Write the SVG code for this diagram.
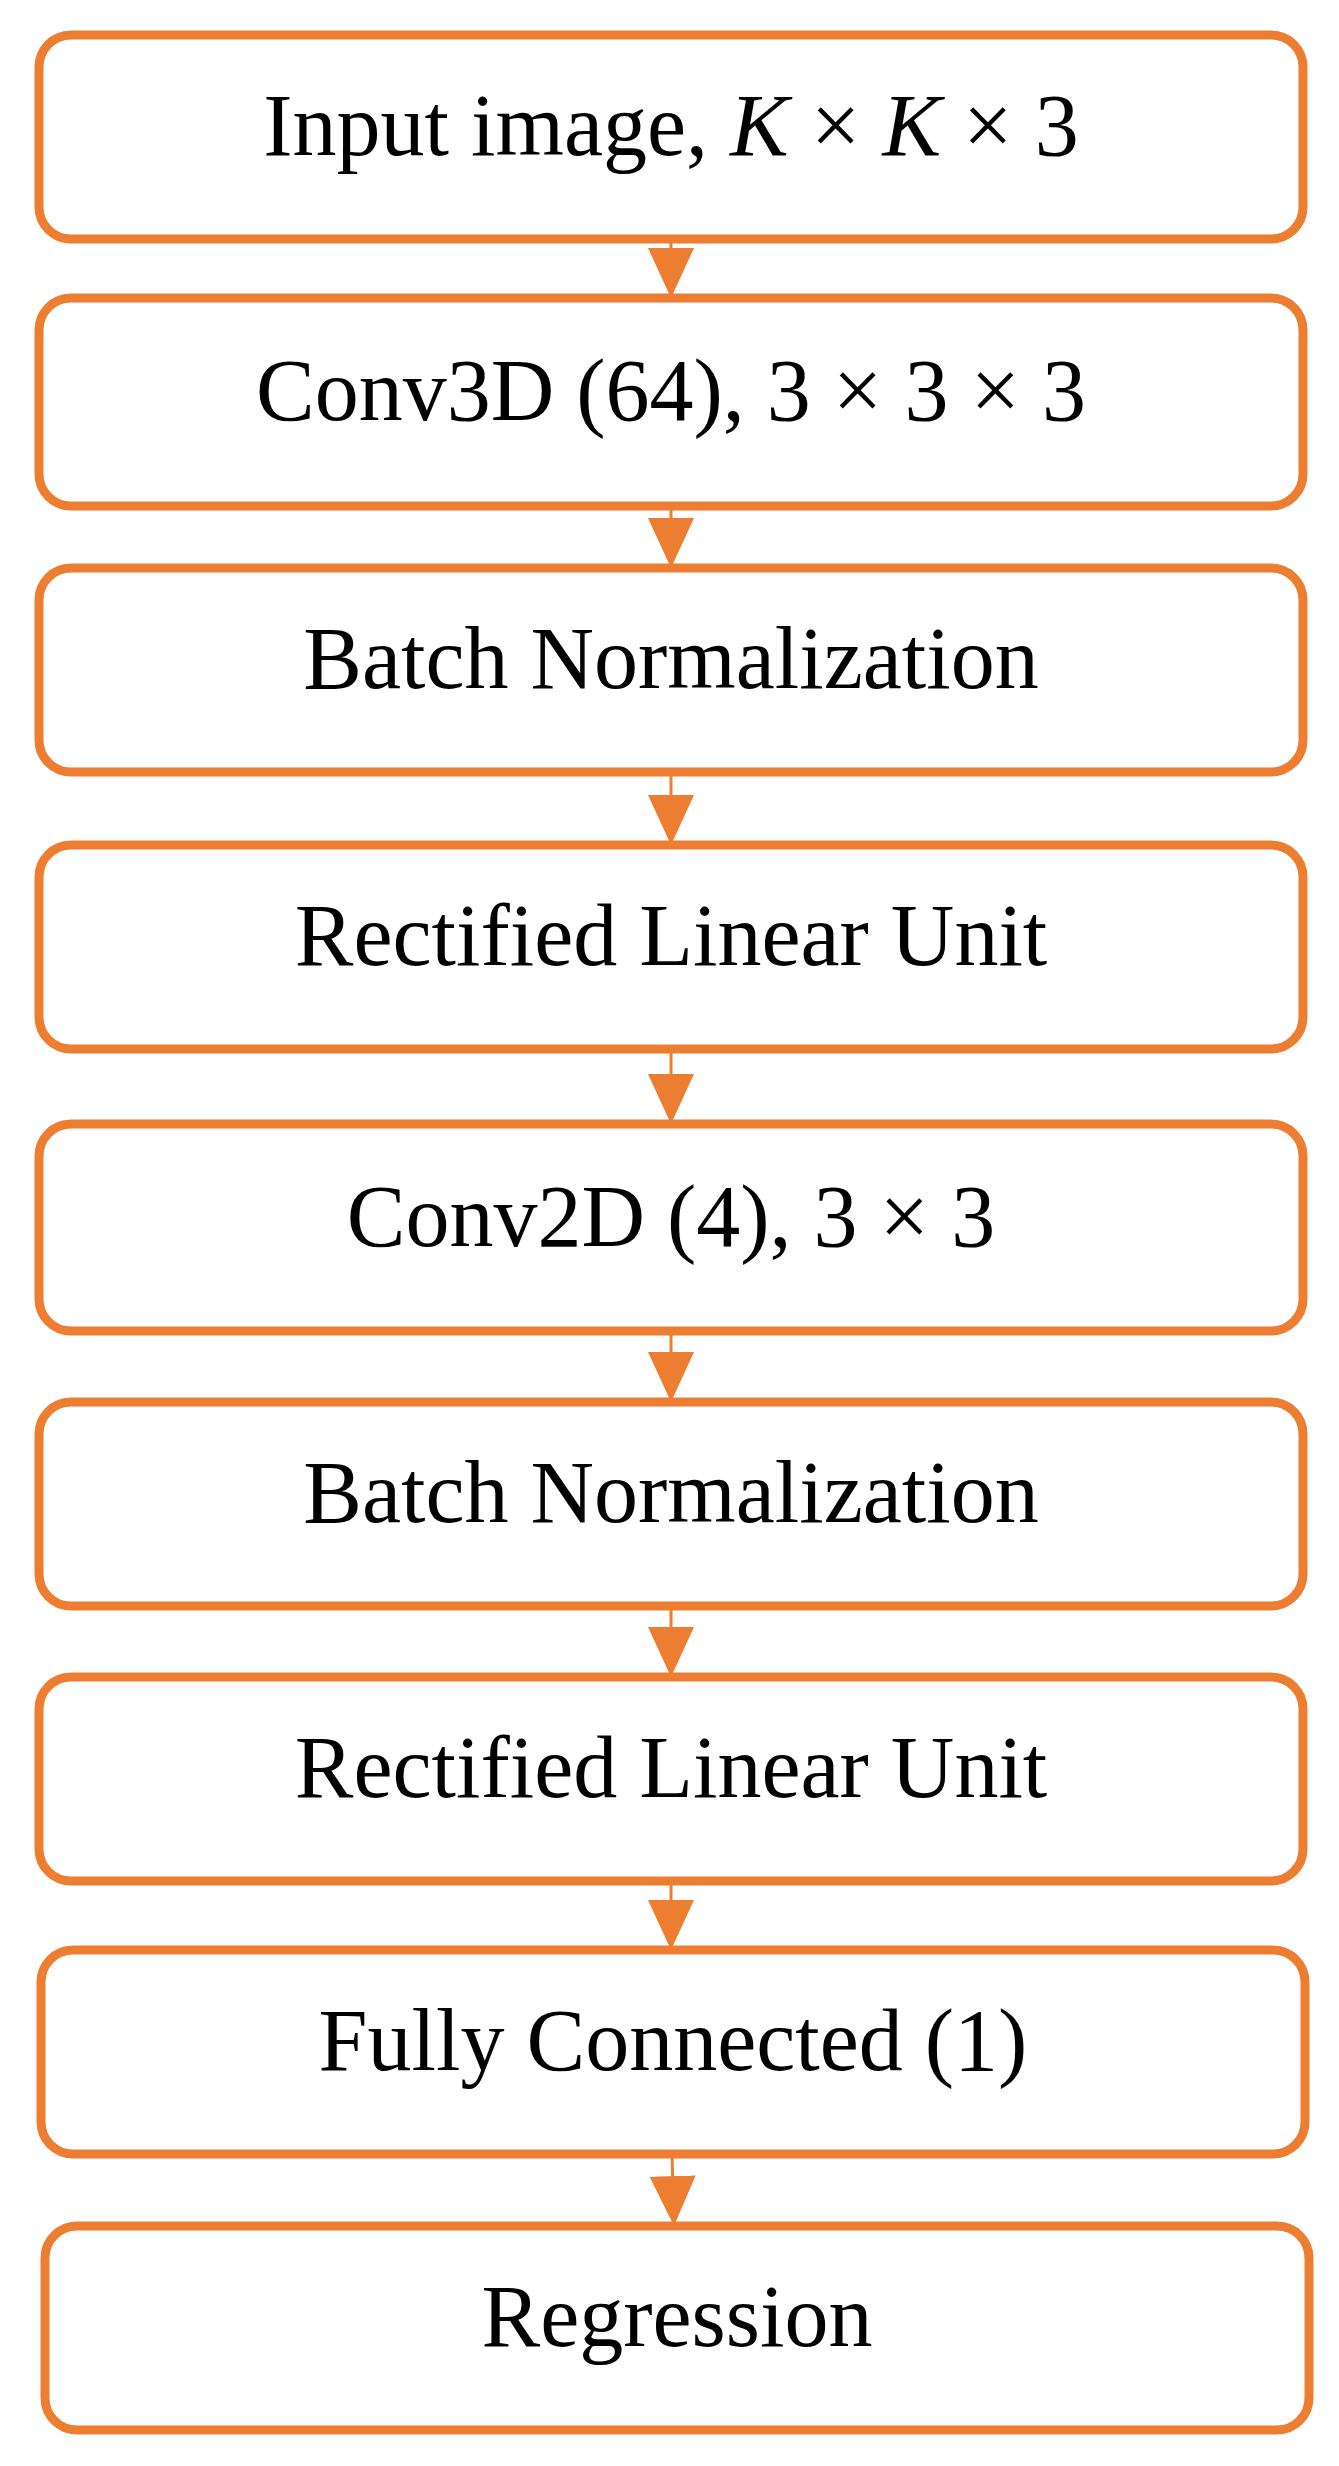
<svg xmlns="http://www.w3.org/2000/svg" width="1339" height="2466" viewBox="0 0 1339 2466">
<style>
.n{fill:#fff;stroke:#ED7D31;stroke-width:9}
.t{font-family:"Liberation Serif",serif;font-size:88px;text-anchor:middle;fill:#000}
.c{stroke:#ED7D31;stroke-width:3;fill:none}
</style>
<defs><marker id="a" markerUnits="userSpaceOnUse" markerWidth="50" markerHeight="46" refX="50" refY="23" orient="auto" viewBox="0 0 50 46"><path d="M0,0L50,23L0,46Z" fill="#ED7D31"/></marker></defs>
<rect width="1339" height="2466" fill="#fff"/>
<g id="connectors">
<line class="c" x1="671" y1="239" x2="671" y2="298" marker-end="url(#a)"/>
<line class="c" x1="671" y1="506" x2="671" y2="568" marker-end="url(#a)"/>
<line class="c" x1="671" y1="772" x2="671" y2="845" marker-end="url(#a)"/>
<line class="c" x1="671" y1="1049" x2="671" y2="1124" marker-end="url(#a)"/>
<line class="c" x1="671" y1="1331" x2="671" y2="1402" marker-end="url(#a)"/>
<line class="c" x1="671" y1="1606" x2="671" y2="1677" marker-end="url(#a)"/>
<line class="c" x1="671" y1="1881" x2="671" y2="1950" marker-end="url(#a)"/>
<line class="c" x1="672" y1="2154" x2="674" y2="2226" marker-end="url(#a)"/>
</g>
<g id="n1"><rect class="n" x="39" y="35" width="1264" height="204" rx="32"/><text class="t" x="671" y="155">Input image, <tspan font-style="italic">K</tspan> × <tspan font-style="italic">K</tspan> × 3</text></g>
<g id="n2"><rect class="n" x="39" y="298" width="1264" height="208" rx="32"/><text class="t" x="671" y="420">Conv3D (64), 3 × 3 × 3</text></g>
<g id="n3"><rect class="n" x="39" y="568" width="1264" height="204" rx="32"/><text class="t" x="671" y="688">Batch Normalization</text></g>
<g id="n4"><rect class="n" x="39" y="845" width="1264" height="204" rx="32"/><text class="t" x="671" y="965">Rectified Linear Unit</text></g>
<g id="n5"><rect class="n" x="39" y="1124" width="1264" height="207" rx="32"/><text class="t" x="671" y="1246">Conv2D (4), 3 × 3</text></g>
<g id="n6"><rect class="n" x="39" y="1402" width="1264" height="204" rx="32"/><text class="t" x="671" y="1522">Batch Normalization</text></g>
<g id="n7"><rect class="n" x="39" y="1677" width="1264" height="204" rx="32"/><text class="t" x="671" y="1797">Rectified Linear Unit</text></g>
<g id="n8"><rect class="n" x="41" y="1950" width="1264" height="204" rx="32"/><text class="t" x="673" y="2070">Fully Connected (1)</text></g>
<g id="n9"><rect class="n" x="45" y="2226" width="1264" height="204" rx="32"/><text class="t" x="677" y="2346">Regression</text></g>
</svg>
